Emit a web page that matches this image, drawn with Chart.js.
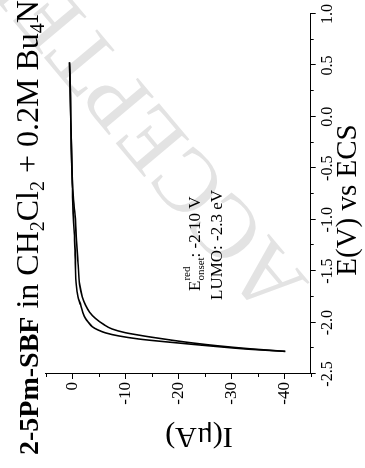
<!DOCTYPE html>
<html>
<head>
<meta charset="utf-8">
<script src="https://cdn.jsdelivr.net/npm/chart.js@4"></script>
<style>
  html, body { margin: 0; padding: 0; background: #fff; overflow: hidden; }
  /* the figure is printed turned a quarter turn, so the chart is drawn upright and rotated */
  #wrap { position: absolute; left: 0; top: 0; width: 468px; height: 365px;
          transform-origin: 0 0; transform: translate(0, 468px) rotate(-90deg); }
</style>
</head>
<body>
<div id="wrap"><canvas id="cv" width="468" height="365"></canvas></div>
<script>
// cyclic voltammogram
const scan1E = [0.53, 0.2, -0.3, -0.7, -0.97, -1.2, -1.42, -1.63, -1.75, -1.83, -1.9, -1.96, -2.02, -2.062, -2.098, -2.122, -2.14, -2.172, -2.2, -2.225, -2.255, -2.28];
const scan1I = [0.5, 0.35, 0.15, -0.1, -0.55, -0.8, -1.1, -1.4, -1.9, -2.5, -3.3, -4.4, -6.0, -7.5, -10.0, -12.6, -14.7, -18.9, -23.0, -27.3, -33.6, -40.2];
const scan2E = [0.53, 0.2, -0.3, -0.7, -0.97, -1.2, -1.42, -1.63, -1.75, -1.83, -1.9, -1.96, -2.0, -2.04, -2.07, -2.1, -2.13, -2.16, -2.172, -2.193, -2.213, -2.233, -2.26, -2.28];
const scan2I = [0.5, 0.35, 0.15, -0.05, -0.2, -0.45, -0.6, -0.75, -1.1, -1.6, -2.0, -2.5, -3.1, -3.8, -4.8, -6.3, -8.8, -12.6, -14.7, -18.9, -23.0, -27.3, -33.6, -40.2];

const eTicks = [-2.5, -2.0, -1.5, -1.0, -0.5, 0.0, 0.5, 1.0];
const eMinor = [-2.25, -1.75, -1.25, -0.75, -0.25, 0.25, 0.75];
const iTicks = [0, -10, -20, -30, -40];
const iMinor = [5, -5, -15, -25, -35, -45];

const serif = "'Times New Roman', 'Liberation Serif', serif";

function toPoints(xs, ys) {
  return xs.map((v, i) => ({ x: v, y: ys[i] }));
}

// draws a list of text pieces one after another (for sub/superscripts)
function drawRuns(ctx, x, y, runs) {
  runs.forEach(r => {
    ctx.font = r.f + ' ' + serif;
    if (r.stack) {
      ctx.fillText(r.t, x, y + r.dy);
      ctx.fillText(r.stack, x, y + r.sdy);
      x += Math.max(ctx.measureText(r.t).width, ctx.measureText(r.stack).width);
    } else {
      ctx.fillText(r.t, x, y + (r.dy || 0));
      x += ctx.measureText(r.t).width;
    }
  });
}

const figureText = {
  id: 'figureText',
  beforeDraw(chart) {
    const ctx = chart.ctx;
    ctx.save();
    ctx.fillStyle = '#fff';
    ctx.fillRect(0, 0, chart.width, chart.height);
    // journal watermark
    ctx.translate(185, 310);
    ctx.rotate(-40 * Math.PI / 180);
    ctx.font = '90px ' + serif;
    ctx.fillStyle = '#e3e3e3';
    ctx.fillText('ACCEPTED MANUSCRIPT', 0, 0);
    ctx.restore();
  },
  afterDraw(chart) {
    const { ctx, chartArea, scales: { x, y } } = chart;
    ctx.save();
    ctx.strokeStyle = '#000';
    ctx.lineWidth = 1;
    ctx.beginPath();
    const xTick = (v, len) => {
      const p = Math.round(x.getPixelForValue(v)) + 0.5;
      ctx.moveTo(p, chartArea.bottom);
      ctx.lineTo(p, chartArea.bottom + len);
    };
    const yTick = (v, len) => {
      const p = Math.round(y.getPixelForValue(v)) + 0.5;
      ctx.moveTo(chartArea.left, p);
      ctx.lineTo(chartArea.left - len, p);
    };
    eTicks.forEach(v => xTick(v, 5));
    eMinor.forEach(v => xTick(v, 3));
    iTicks.forEach(v => yTick(v, 5));
    iMinor.forEach(v => yTick(v, 3));
    ctx.stroke();

    ctx.fillStyle = '#000';
    ctx.textBaseline = 'alphabetic';
    ctx.textAlign = 'left';
    drawRuns(ctx, 13, 38, [
      { t: '2-5Pm-SBF', f: 'bold 28px' },
      { t: ' in CH', f: '32px' },
      { t: '2', f: '20px', dy: 6 },
      { t: 'Cl', f: '32px' },
      { t: '2', f: '20px', dy: 6 },
      { t: ' + 0.2M Bu', f: '32px' },
      { t: '4', f: '20px', dy: 6 },
      { t: 'NPF', f: '32px' },
      { t: '6', f: '20px', dy: 6 }
    ]);

    drawRuns(ctx, 177, 200, [
      { t: 'E', f: '17px' },
      { t: 'onset', f: '11px', dy: 4, stack: 'red', sdy: -10 },
      { t: ': -2.10 V', f: '17px' }
    ]);
    drawRuns(ctx, 168, 222, [{ t: 'LUMO: -2.3 eV', f: '17px' }]);

    // axis titles
    ctx.textAlign = 'center';
    ctx.textBaseline = 'middle';
    ctx.font = '29px ' + serif;
    ctx.fillText('E(V) vs ECS', 268, 348);
    ctx.translate(32, 199);
    ctx.rotate(-Math.PI / 2);
    ctx.font = '30px ' + serif;
    ctx.fillText('I(\u03bcA)', 0, 0);
    ctx.restore();
  }
};

new Chart(document.getElementById('cv'), {
  type: 'scatter',
  data: {
    datasets: [
      { data: toPoints(scan1E, scan1I), showLine: true, borderColor: '#000', borderWidth: 1.6, pointRadius: 0, cubicInterpolationMode: 'monotone' },
      { data: toPoints(scan2E, scan2I), showLine: true, borderColor: '#000', borderWidth: 1.6, pointRadius: 0, cubicInterpolationMode: 'monotone' }
    ]
  },
  options: {
    responsive: false,
    animation: false,
    events: [],
    layout: { padding: { top: 45.7, right: 14, left: 0, bottom: 0 } },
    plugins: { legend: { display: false }, tooltip: { enabled: false } },
    scales: {
      x: {
        type: 'linear',
        min: -2.5,
        max: 1.0,
        afterBuildTicks: s => { s.ticks = eTicks.map(v => ({ value: v })); },
        afterFit: s => { s.height = 54.3; },
        grid: { display: false, drawTicks: true, tickLength: 5 },
        border: { display: true, color: '#000', width: 1 },
        ticks: { color: '#000', padding: 2, maxRotation: 0, font: { family: serif, size: 16 },
                 callback: v => v.toFixed(1) }
      },
      y: {
        type: 'linear',
        min: -45,
        max: 5,
        afterBuildTicks: s => { s.ticks = iTicks.map(v => ({ value: v })); },
        afterFit: s => { s.width = 94; },
        grid: { display: false, drawTicks: true, tickLength: 5 },
        border: { display: true, color: '#000', width: 1 },
        ticks: { color: '#000', padding: 3, font: { family: serif, size: 17 },
                 callback: v => String(v) }
      }
    }
  },
  plugins: [figureText]
});
</script>
</body>
</html>
